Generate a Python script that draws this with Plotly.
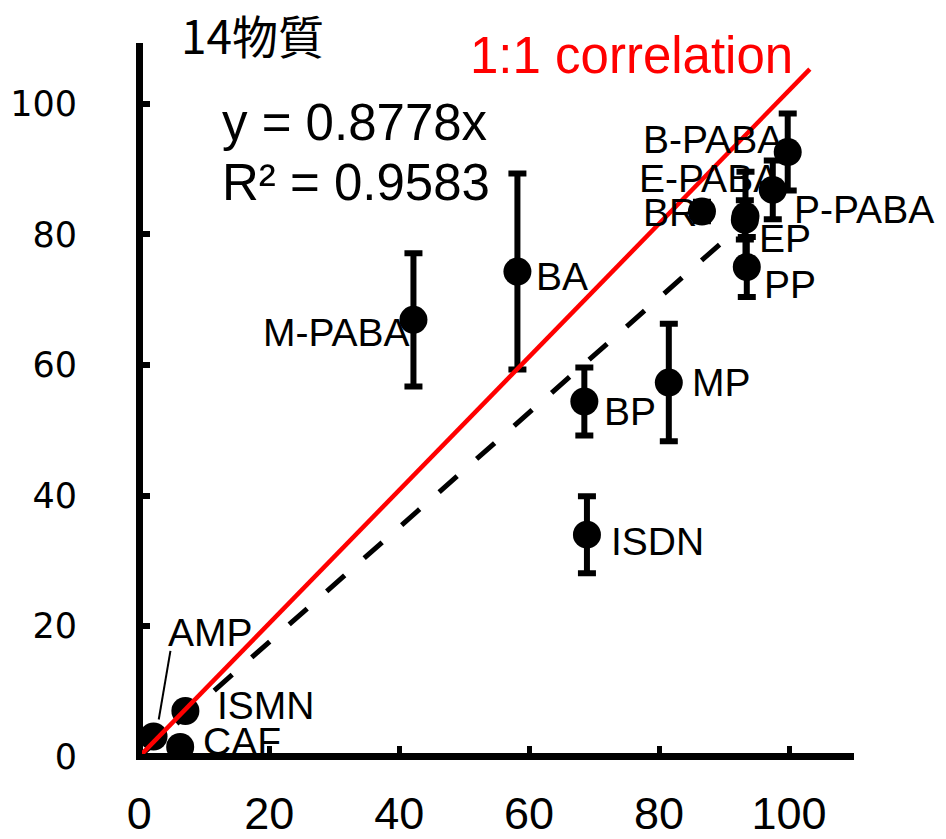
import plotly.graph_objects as go

# ---- data ----
names = ["AMP", "CAF", "ISMN", "M-PABA", "BA", "BP", "ISDN", "MP", "BR",
         "E-PABA", "EP", "PP", "P-PABA", "B-PABA"]
x_vals = [2.2, 6.3, 7.1, 42.2, 58.2, 68.5, 68.9, 81.5, 86.6, 93.3, 93.2, 93.5, 97.5, 99.8]
y_vals = [3.1, 1.5, 7.0, 66.9, 74.3, 54.4, 34.0, 57.3, 83.5, 82.8, 82.2, 75.0, 86.8, 92.6]
y_err = [0.0, 0.0, 0.0, 10.2, 15.0, 5.2, 5.9, 9.0, 1.5, 6.8, 3.0, 4.6, 4.5, 5.9]

# label anchor positions (left edge, vertical middle) in data units
label_x = [4.3, 9.7, 11.8, 18.9, 60.9, 71.4, 72.5, 84.9, 77.4, 76.8, 95.2, 96.0, 100.6, 77.4]
label_y = [19.1, 2.4, 7.8, 64.9, 73.6, 52.8, 33.0, 57.3, 83.3, 88.5, 79.3, 72.3, 83.8, 94.5]

# AMP leader line
leader_x = [3.0, 4.8]
leader_y = [5.7, 16.2]

slope = 0.8778
r2 = 0.9583
trend_x = [0.0, 89.5]
trend_y = [0.0, 78.6]

one_x = [-0.5, 103.2]
one_y = [-0.5, 105.3]

x_ticks = [0, 20, 40, 60, 80, 100]
y_ticks = [0, 20, 40, 60, 80, 100]

FONT = "Liberation Sans, Arial, sans-serif"

fig = go.Figure()

fig.add_trace(go.Scatter(
    x=x_vals, y=y_vals, mode="markers",
    marker=dict(size=28, color="black"),
    error_y=dict(type="data", array=y_err, visible=True, color="black",
                 thickness=6, width=9),
    showlegend=False, hoverinfo="skip"))

fig.add_trace(go.Scatter(
    x=leader_x, y=leader_y, mode="lines",
    line=dict(color="black", width=2), showlegend=False, hoverinfo="skip"))

fig.add_trace(go.Scatter(
    x=trend_x, y=trend_y, mode="lines",
    line=dict(color="black", width=5, dash="24px,26px"),
    showlegend=False, hoverinfo="skip"))

fig.add_trace(go.Scatter(
    x=one_x, y=one_y, mode="lines",
    line=dict(color="#ff0000", width=4.5),
    showlegend=False, hoverinfo="skip"))

for n, lx, ly in zip(names, label_x, label_y):
    fig.add_annotation(x=lx, y=ly, xref="x", yref="y", text=n,
                       showarrow=False, xanchor="left", yanchor="middle",
                       font=dict(family=FONT, size=39, color="black"),
                       borderpad=0)

W, H = 946, 839
L, R, T, B = 136, 92, 43, 79
pw, ph = W - L - R, H - T - B


def px(xp):
    return (xp - L) / pw


def py(yp):
    return (H - B - yp) / ph


fig.add_annotation(x=px(220), y=py(123), xref="paper", yref="paper",
                   text=f"y = {slope}x", showarrow=False, xanchor="left", yanchor="middle",
                   font=dict(family=FONT, size=51, color="black"))
fig.add_annotation(x=px(220), y=py(183), xref="paper", yref="paper",
                   text=f"R² = {r2}", showarrow=False, xanchor="left", yanchor="middle",
                   font=dict(family=FONT, size=51, color="black"))
fig.add_annotation(x=px(179), y=py(34), xref="paper", yref="paper",
                   text="14物質", showarrow=False, xanchor="left", yanchor="middle",
                   font=dict(family="Noto Sans CJK JP, sans-serif", size=46, color="black"))
fig.add_annotation(x=px(468), y=py(55), xref="paper", yref="paper",
                   text="1:1 correlation", showarrow=False, xanchor="left", yanchor="middle",
                   font=dict(family=FONT, size=51, color="#ff0000"))

fig.update_layout(
    width=W, height=H,
    margin=dict(l=L, r=R, t=T, b=B, pad=0, autoexpand=False),
    paper_bgcolor="white", plot_bgcolor="white",
    showlegend=False,
)
fig.update_xaxes(
    range=[-0.5, 110], tickvals=x_ticks, ticktext=[str(v) for v in x_ticks],
    showgrid=False, showline=False, automargin=False,
    zeroline=True, zerolinecolor="black", zerolinewidth=7,
    ticks="inside", ticklen=14, tickwidth=5, tickcolor="black",
    tickfont=dict(family=FONT, size=45, color="black"),
    ticklabelstandoff=23,
)
fig.update_yaxes(
    range=[-0.5, 109.3], tickvals=y_ticks, ticktext=[str(v) for v in y_ticks],
    showgrid=False, showline=False, automargin=False,
    zeroline=True, zerolinecolor="black", zerolinewidth=7,
    ticks="inside", ticklen=14, tickwidth=6, tickcolor="black",
    tickfont=dict(family="DejaVu Sans, sans-serif", size=35, color="black"),
    ticklabelstandoff=58,
)

fig.write_html("out.html")
